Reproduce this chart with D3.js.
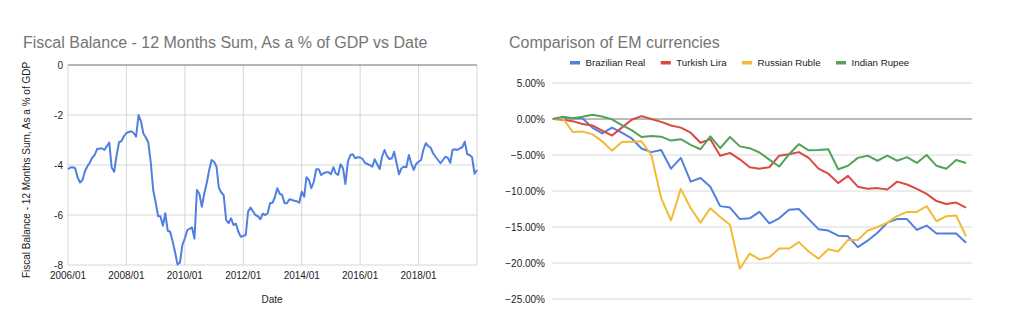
<!DOCTYPE html>
<html>
<head>
<meta charset="utf-8">
<script src="https://cdn.jsdelivr.net/npm/d3@7"></script>
<style>
  body { margin: 0; background: #fff; }
  svg text { font-family: "Liberation Sans", Arial, sans-serif; }
</style>
</head>
<body>
<svg id="chart" width="1024" height="330"></svg>
<script>
// ---- left chart: monthly fiscal balance, starting 2006/01 ----
const fiscalStart = [2006, 0];
const fiscalValues = [
  -4.17, -4.10, -4.09, -4.13, -4.50, -4.70, -4.60, -4.25, -4.05, -3.90, -3.70, -3.60,
  -3.35, -3.35, -3.33, -3.40, -3.25, -3.10, -4.10, -4.27, -3.60, -3.09, -3.04, -2.85,
  -2.72, -2.68, -2.65, -2.72, -2.87, -2.00, -2.25, -2.75, -2.90, -3.10, -3.90, -5.00,
  -5.50, -6.05, -6.05, -6.43, -5.93, -6.63, -6.67, -7.05, -7.50, -7.98, -7.90, -7.20,
  -6.93, -6.60, -6.55, -6.50, -6.95, -5.00, -5.15, -5.67, -5.13, -4.73, -4.20, -3.80,
  -3.87, -4.07, -4.90, -5.10, -5.20, -6.20, -6.33, -6.13, -6.40, -6.35, -6.67, -6.87,
  -6.84, -6.80, -5.87, -5.70, -5.85, -6.00, -6.05, -6.17, -5.95, -6.00, -5.93, -5.53,
  -5.51, -5.27, -4.93, -5.15, -5.20, -5.53, -5.53, -5.37, -5.40, -5.43, -5.45, -5.51,
  -5.07, -5.27, -4.49, -4.60, -4.93, -4.67, -4.17, -4.17, -4.40, -4.33, -4.29, -4.29,
  -4.37, -4.09, -4.33, -4.40, -3.97, -4.13, -4.76, -3.87, -3.60, -3.57, -3.73, -3.69,
  -3.70, -3.76, -3.91, -3.96, -4.00, -4.07, -3.77, -3.97, -4.16, -3.67, -3.40, -3.64,
  -3.76, -3.73, -3.47, -3.93, -4.37, -4.13, -4.07, -4.09, -3.60, -3.93, -4.20, -3.96,
  -3.87, -3.80, -3.40, -3.13, -3.24, -3.31, -3.53, -3.67, -3.80, -3.93, -3.80, -3.67,
  -3.71, -3.91, -3.40, -3.37, -3.40, -3.33, -3.29, -3.07, -3.57, -3.60, -3.69, -4.35,
  -4.20
];
const fiscalYTicks = [0, -2, -4, -6, -8];
const fiscalXTicks = ["2006/01", "2008/01", "2010/01", "2012/01", "2014/01", "2016/01", "2018/01", "2020/01"];

// ---- right chart: EM currencies, cumulative change in % ----
const emNames = ["Brazilian Real", "Turkish Lira", "Russian Ruble", "Indian Rupee"];
const brl = [0, 0.2, 0.1, 0.1, -1.2, -2.0, -1.2, -1.9, -2.7, -4.1,
  -4.6, -4.3, -6.9, -5.4, -8.7, -8.2, -9.4, -12.1, -12.3, -13.9,
  -13.8, -12.9, -14.5, -13.8, -12.6, -12.5, -13.9, -15.3, -15.5, -16.2,
  -16.3, -17.8, -16.9, -15.8, -14.4, -13.9, -13.9, -15.4, -14.8, -15.9,
  -15.9, -15.9, -17.2];
const tryL = [0, -0.1, -0.3, -0.7, -0.9, -1.6, -2.3, -1.2, -0.1, 0.4,
  0.0, -0.4, -0.9, -1.2, -1.9, -3.3, -2.8, -5.1, -4.7, -5.6,
  -6.7, -6.9, -6.7, -5.1, -4.9, -4.6, -5.4, -6.9, -7.6, -8.9,
  -7.9, -9.4, -9.7, -9.6, -9.8, -8.7, -9.1, -9.7, -10.4, -11.4,
  -11.8, -11.6, -12.3];
const rub = [0, 0.1, -1.8, -1.75, -2.1, -3.1, -4.4, -3.2, -3.15, -3.1,
  -5.0, -11.0, -14.1, -9.7, -12.4, -14.4, -12.4, -13.6, -14.7, -20.8,
  -18.7, -19.5, -19.2, -18.0, -18.0, -17.1, -18.4, -19.4, -18.1, -18.4,
  -16.8, -16.8, -15.5, -15.0, -14.4, -13.5, -12.9, -12.9, -12.1, -14.2,
  -13.5, -13.4, -16.3];
const inr = [0, 0.3, 0.1, 0.3, 0.6, 0.35, -0.05, -0.85, -1.55, -2.5,
  -2.35, -2.45, -3.0, -2.8, -3.6, -4.2, -2.4, -4.05, -2.5, -3.8,
  -4.05, -4.65, -5.65, -6.6, -4.9, -3.5, -4.35, -4.3, -4.2, -6.97,
  -6.5, -5.4, -5.1, -5.8, -5.1, -5.8, -5.3, -6.1, -5.0, -6.5,
  -6.9, -5.7, -6.1];
const emYTicks = [5, 0, -5, -10, -15, -20, -25];
const emColors = ["#4f80e1", "#d94a3f", "#f3ba3a", "#52a35a"];

const svg = d3.select("#chart");
const parseTick = d3.timeParse("%Y/%m");

// ================= left chart =================
const fisc = fiscalValues.map((v, i) => ({ date: new Date(fiscalStart[0], fiscalStart[1] + i, 1), v }));
const x1 = d3.scaleTime()
  .domain([parseTick("2006/01"), parseTick("2020/01")])
  .range([68, 477]);
const y1 = d3.scaleLinear().domain([-8, 0]).range([265, 65]);

const g1 = svg.append("g");

g1.append("text")
  .attr("x", 23).attr("y", 48)
  .style("font-size", "16px").style("fill", "#757575")
  .text("Fiscal Balance - 12 Months Sum, As a % of GDP vs Date");

// horizontal gridlines
g1.selectAll("line.hgrid")
  .data(fiscalYTicks.filter(d => d !== 0))
  .enter().append("line")
  .attr("x1", x1.range()[0]).attr("x2", x1.range()[1])
  .attr("y1", d => y1(d)).attr("y2", d => y1(d))
  .attr("stroke", "#d6d6d6").attr("stroke-width", 1);

// vertical gridlines
g1.selectAll("line.vgrid")
  .data(fiscalXTicks)
  .enter().append("line")
  .attr("x1", d => x1(parseTick(d))).attr("x2", d => x1(parseTick(d)))
  .attr("y1", y1(0)).attr("y2", y1(-8))
  .attr("stroke", "#d6d6d6").attr("stroke-width", 1);

// zero baseline
g1.append("line")
  .attr("x1", x1.range()[0]).attr("x2", x1.range()[1])
  .attr("y1", y1(0)).attr("y2", y1(0))
  .attr("stroke", "#6f6f6f").attr("stroke-width", 1);

g1.selectAll("text.ytick")
  .data(fiscalYTicks)
  .enter().append("text")
  .attr("x", 63).attr("y", d => y1(d)).attr("dy", "0.35em")
  .attr("text-anchor", "end")
  .style("font-size", "10px").style("fill", "#222")
  .text(d => d);

g1.selectAll("text.xtick")
  .data(fiscalXTicks.slice(0, -1))
  .enter().append("text")
  .attr("x", d => x1(parseTick(d))).attr("y", 279)
  .attr("text-anchor", "middle")
  .style("font-size", "10px").style("fill", "#222")
  .text(d => d);

g1.append("text")
  .attr("x", 272).attr("y", 303)
  .attr("text-anchor", "middle")
  .style("font-size", "10px").style("fill", "#222")
  .text("Date");

g1.append("text")
  .attr("transform", "translate(30,170) rotate(-90)")
  .attr("text-anchor", "middle")
  .style("font-size", "10px").style("fill", "#222")
  .text("Fiscal Balance - 12 Months Sum, As a % of GDP");

g1.append("path")
  .datum(fisc)
  .attr("fill", "none")
  .attr("stroke", "#4f80e1")
  .attr("stroke-width", 2)
  .attr("stroke-linejoin", "round")
  .attr("d", d3.line().x(d => x1(d.date)).y(d => y1(d.v)));

// ================= right chart =================
const series = [brl, tryL, rub, inr];
const x2 = d3.scaleLinear().domain([0, brl.length - 1]).range([553, 966]);
const y2 = d3.scaleLinear().domain([-25, 5]).range([299, 83]);

const g2 = svg.append("g");

g2.append("text")
  .attr("x", 509).attr("y", 48)
  .style("font-size", "16px").style("fill", "#757575")
  .text("Comparison of EM currencies");

g2.selectAll("line.hgrid")
  .data(emYTicks.filter(d => d !== 0))
  .enter().append("line")
  .attr("x1", 552).attr("x2", 972)
  .attr("y1", d => y2(d)).attr("y2", d => y2(d))
  .attr("stroke", "#d9d9d9").attr("stroke-width", 1);

g2.append("line")
  .attr("x1", 552).attr("x2", 972)
  .attr("y1", y2(0)).attr("y2", y2(0))
  .attr("stroke", "#777").attr("stroke-width", 1);

g2.selectAll("text.ytick")
  .data(emYTicks)
  .enter().append("text")
  .attr("x", 545).attr("y", d => y2(d)).attr("dy", "0.35em")
  .attr("text-anchor", "end")
  .style("font-size", "10px").style("fill", "#222")
  .text(d => d3.format(".2f")(d) + "%");

const line2 = d3.line().x((d, i) => x2(i)).y(d => y2(d));
g2.selectAll("path.series")
  .data(series)
  .enter().append("path")
  .attr("fill", "none")
  .attr("stroke", (d, i) => emColors[i])
  .attr("stroke-width", 2)
  .attr("stroke-linejoin", "round")
  .attr("d", line2);

// legend
let lx = 570;
emNames.forEach((name, i) => {
  g2.append("rect")
    .attr("x", lx).attr("y", 61)
    .attr("width", 10).attr("height", 3.5)
    .attr("fill", emColors[i]);
  const t = g2.append("text")
    .attr("x", lx + 15.5).attr("y", 66)
    .style("font-size", "9.7px").style("fill", "#222")
    .text(name);
  lx += 15.5 + t.node().getComputedTextLength() + 15.5;
});
</script>
</body>
</html>
